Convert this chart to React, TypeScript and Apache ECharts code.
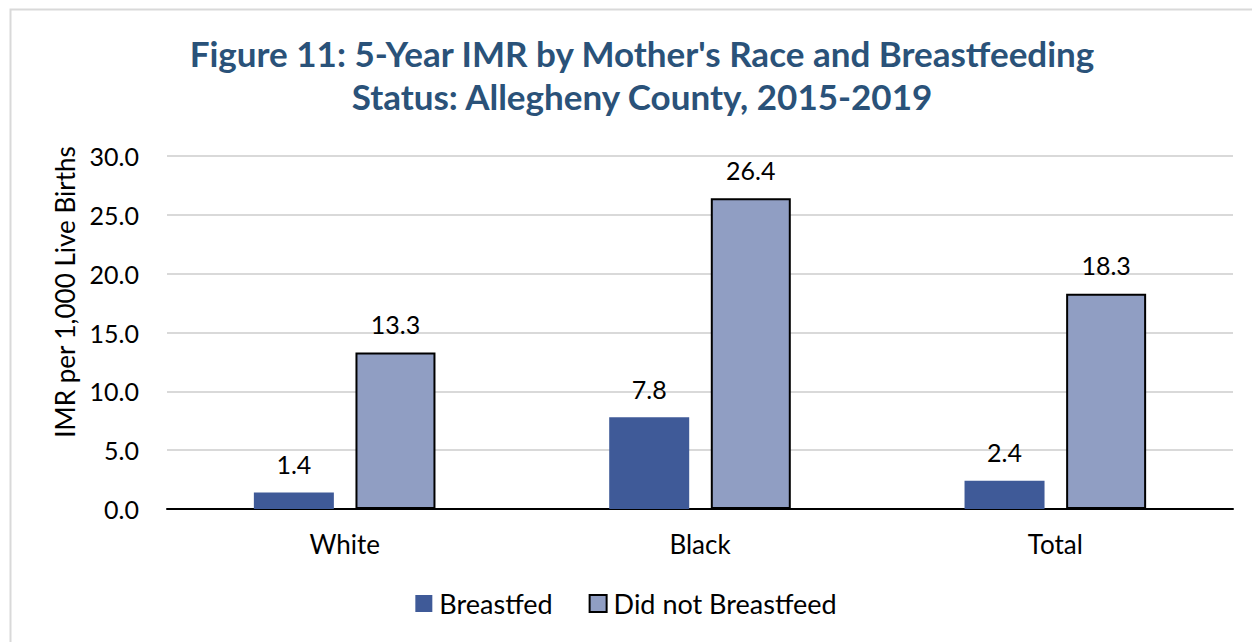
import React, { useEffect, useRef } from "react";
import * as echarts from "echarts";

const categories = ["White", "Black", "Total"];
const breastfed = [1.4, 7.8, 2.4];
const notBreastfed = [13.3, 26.4, 18.3];
const seriesNames = ["Breastfed", "Did not Breastfeed"];
const titleLines = [
  "Figure 11: 5-Year IMR by Mother's Race and Breastfeeding",
  "Status: Allegheny County, 2015-2019",
];
const yAxisName = "IMR per 1,000 Live Births";

const FONT = "Lato, 'Open Sans', sans-serif";

export default function App() {
  const ref = useRef<HTMLDivElement>(null);
  useEffect(() => {
    document.body.style.margin = "0";
    const chart = echarts.init(ref.current!, null, { renderer: "svg" });
    const labelFmt = (p: any) => Number(p.value).toFixed(1);
    chart.setOption({
      animation: false,
      backgroundColor: "#ffffff",
      textStyle: { fontFamily: FONT },
      title: {
        text: titleLines.join("\n"),
        left: 637,
        textAlign: "center",
        top: 26,
        textStyle: {
          fontFamily: FONT,
          fontSize: 35,
          fontWeight: "bold",
          color: "#2A5279",
          lineHeight: 43,
        },
      },
      graphic: [
        {
          type: "rect",
          shape: { x: 10.5, y: 9.5, width: 1300, height: 700 },
          style: { fill: "none", stroke: "#d9d9d9", lineWidth: 2 },
          silent: true,
        },
        {
          type: "text",
          x: 65,
          y: 292,
          rotation: Math.PI / 2,
          style: {
            text: yAxisName,
            fontFamily: FONT,
            fontSize: 26,
            fill: "#000",
            align: "center",
            verticalAlign: "middle",
          },
          silent: true,
        },
      ],
      legend: {
        bottom: 20,
        left: "center",
        icon: "rect",
        itemWidth: 17,
        itemHeight: 17,
        itemGap: 36,
        textStyle: { fontFamily: FONT, fontSize: 27, color: "#000", padding: [0, 0, 0, 2] },
        data: seriesNames,
      },
      grid: { left: 167, right: 19, top: 156, bottom: 133 },
      xAxis: {
        type: "category",
        data: categories,
        axisLine: { lineStyle: { color: "#000", width: 2 } },
        axisTick: { show: false },
        axisLabel: { fontFamily: FONT, fontSize: 26, color: "#000", margin: 22 },
      },
      yAxis: {
        type: "value",
        min: 0,
        max: 30,
        interval: 5,
        axisLine: { show: false },
        axisTick: { show: false },
        axisLabel: {
          fontFamily: FONT,
          fontSize: 25,
          color: "#000",
          margin: 28,
          formatter: (v: number) => v.toFixed(1),
        },
        splitLine: { lineStyle: { color: "#d9d9d9", width: 2 } },
      },
      series: [
        {
          name: seriesNames[0],
          type: "bar",
          data: breastfed,
          barWidth: 80,
          barGap: "27%",
          itemStyle: { color: "#3F5A98" },
          label: {
            show: true,
            position: "top",
            distance: 16,
            fontFamily: FONT,
            fontSize: 25,
            color: "#000",
            formatter: labelFmt,
          },
        },
        {
          name: seriesNames[1],
          type: "bar",
          data: notBreastfed,
          barWidth: 80,
          barGap: "27%",
          itemStyle: { color: "#909EC3", borderColor: "#000", borderWidth: 2 },
          label: {
            show: true,
            position: "top",
            distance: 16,
            fontFamily: FONT,
            fontSize: 25,
            color: "#000",
            formatter: labelFmt,
          },
        },
      ],
    });
    return () => chart.dispose();
  }, []);
  return <div ref={ref} style={{ width: 1252, height: 642 }} />;
}
